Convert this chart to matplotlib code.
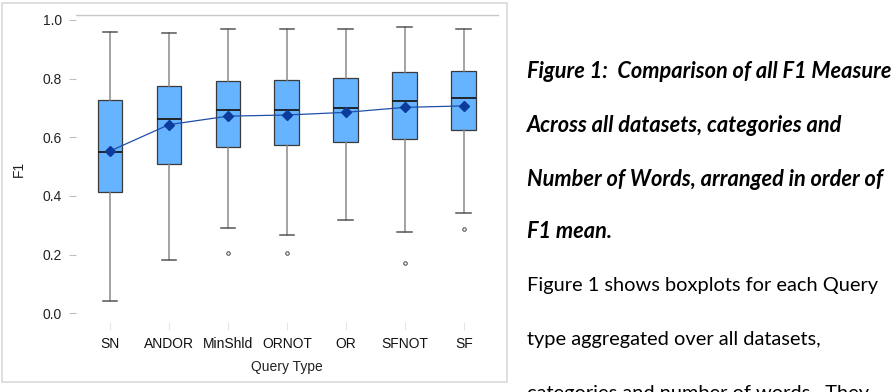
import matplotlib
matplotlib.use('Agg')
import matplotlib.pyplot as plt
from matplotlib.patches import Rectangle

# Datos (F1 por tipo de consulta)
query_types = ['SN', 'ANDOR', 'MinShld', 'ORNOT', 'OR', 'SFNOT', 'SF']
whisker_low = [0.042, 0.183, 0.290, 0.266, 0.319, 0.278, 0.341]
q1 = [0.413, 0.510, 0.568, 0.574, 0.584, 0.595, 0.625]
medians = [0.549, 0.663, 0.693, 0.694, 0.701, 0.724, 0.733]
q3 = [0.728, 0.776, 0.793, 0.794, 0.803, 0.823, 0.825]
whisker_high = [0.958, 0.955, 0.968, 0.968, 0.968, 0.975, 0.970]
means = [0.553, 0.643, 0.672, 0.676, 0.685, 0.702, 0.707]
outliers = [[], [], [0.207], [0.207], [], [0.170], [0.288]]

y_ticks = [0.0, 0.2, 0.4, 0.6, 0.8, 1.0]

caption_lines = [
    'Figure 1:  Comparison of all F1 Measures',
    'Across all datasets, categories and',
    'Number of Words, arranged in order of',
    'F1 mean.',
]
body_lines = [
    'Figure 1 shows boxplots for each Query',
    'type aggregated over all datasets,',
    'categories and number of words.  They',
]

plt.rcParams['font.family'] = ['Liberation Sans', 'DejaVu Sans']

fig = plt.figure(figsize=(8.91, 3.92), dpi=100)
fig.patch.set_facecolor('white')

# marco gris claro alrededor del grafico
fig.patches.append(Rectangle((2 / 891, 1 - 382 / 392), 505 / 891, 379 / 392,
                             transform=fig.transFigure, fill=False,
                             edgecolor='#d9d9d9', linewidth=1.2))

ax = fig.add_axes([76 / 891, 1 - 322 / 392, 422 / 891, 307 / 392])

stats = []
for i, name in enumerate(query_types):
    stats.append({
        'label': name,
        'whislo': whisker_low[i],
        'q1': q1[i],
        'med': medians[i],
        'q3': q3[i],
        'whishi': whisker_high[i],
        'mean': means[i],
        'fliers': outliers[i],
    })

positions = list(range(len(query_types)))
ax.bxp(stats, positions=positions, widths=0.42, patch_artist=True,
       showmeans=False, capwidths=0.25,
       boxprops=dict(facecolor='#66b3ff', edgecolor='#3a3a3a', linewidth=0.9),
       medianprops=dict(color='#1a1a1a', linewidth=1.3),
       whiskerprops=dict(color='#8a8a8a', linewidth=1.1),
       capprops=dict(color='#555555', linewidth=1.1),
       flierprops=dict(marker='o', markersize=2.5, markerfacecolor='white',
                       markeredgecolor='#555555', markeredgewidth=0.8))

ax.plot(positions, means, color='#1f4fa8', linewidth=0.9, marker='D',
        markersize=5.5, markerfacecolor='#0b3c9c', markeredgecolor='#0b3c9c',
        zorder=5)

ax.set_xlim(-0.576, 6.58)
ax.set_ylim(-0.03, 1.017)
ax.set_yticks(y_ticks)
ax.set_yticklabels([f'{t:.1f}' for t in y_ticks])
ax.set_xticks(positions)
ax.set_xticklabels(query_types)

for side in ['left', 'right', 'bottom']:
    ax.spines[side].set_visible(False)
ax.spines['top'].set_color('#c8c8c8')
ax.spines['top'].set_linewidth(1.0)

ax.tick_params(axis='y', length=5, color='#c0c0c0', labelsize=10,
               labelcolor='#222222', pad=5)
ax.tick_params(axis='x', length=6, color='#e6e6e6', labelsize=10,
               labelcolor='#111111', pad=5)

ax.set_xlabel('Query Type', fontsize=10, color='#222222', labelpad=6)
ax.set_ylabel('F1', fontsize=10, color='#222222', labelpad=12)

# texto del documento a la derecha
y_lines = [72, 125, 179, 232]
for txt, yp in zip(caption_lines, y_lines):
    fig.text(527 / 891, 1 - yp / 392, txt, fontsize=15.7, fontweight='bold',
             fontstyle='italic', family=['Lato', 'DejaVu Sans'],
             va='center', ha='left', color='black')

y_body = [286, 340, 394]
for txt, yp in zip(body_lines, y_body):
    fig.text(527 / 891, 1 - yp / 392, txt, fontsize=14.4,
             family=['Lato', 'DejaVu Sans'], va='center', ha='left',
             color='black')

fig.savefig('out.png', dpi=100)
